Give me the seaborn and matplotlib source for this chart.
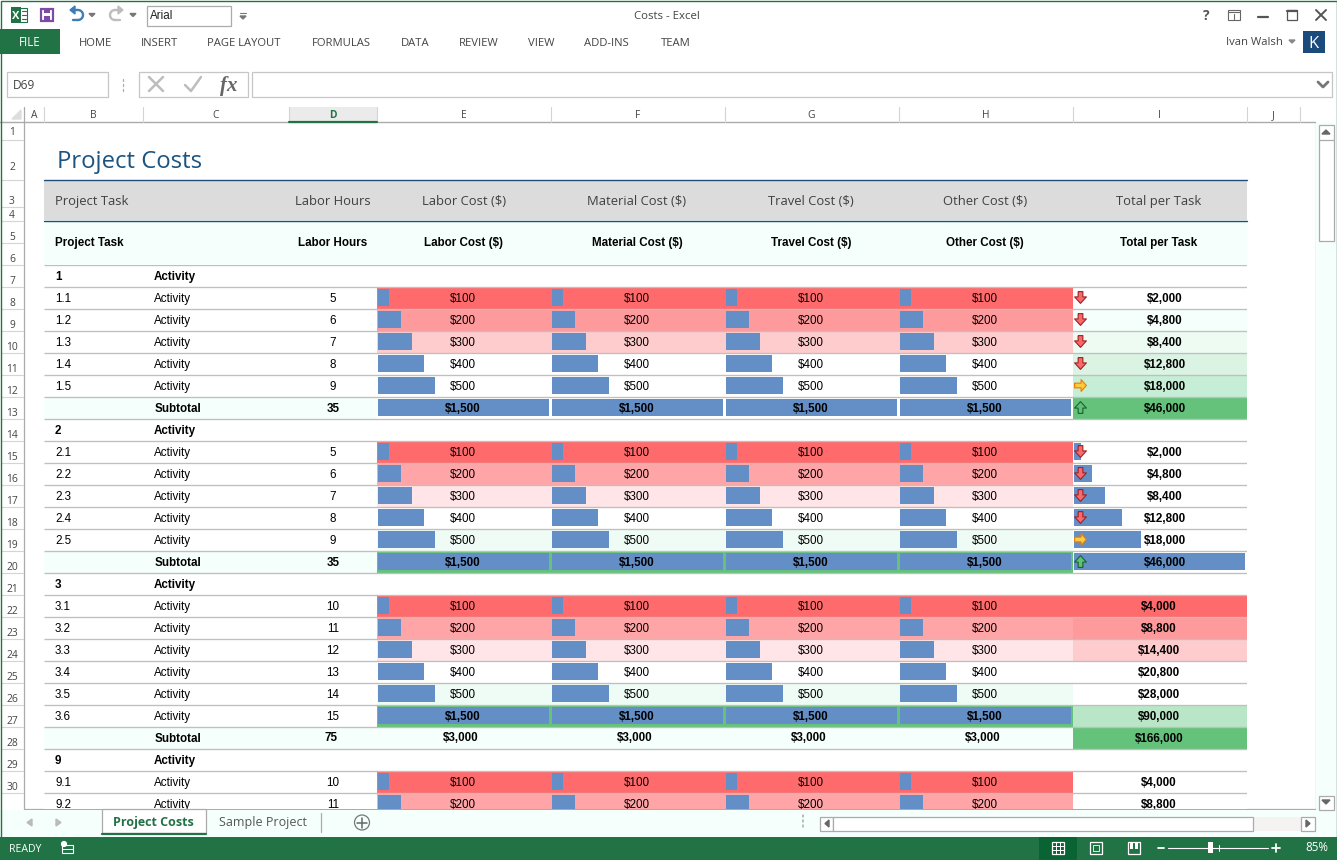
# analysis/hoja_costos.py
import matplotlib.pyplot as plt
import seaborn as sns
import pandas as pd
import numpy as np
from matplotlib.colors import ListedColormap
from matplotlib.patches import Rectangle, Circle, Polygon
from matplotlib.path import Path

ANCHO = 1337
ALTO = 860
OUTPUT_PATH = "out.png"

VERDE = "#217346"
AZUL_BARRA = "#638EC6"
AZUL_TITULO = "#1B5480"
AZUL_LINEA = "#1F4E79"
MENTA = "#F5FFFB"
GRIS_LINEA = "#BFBFBF"
GRIS_TEXTO = "#444444"

FUENTE_UI = "Open Sans"
FUENTE_HOJA = "Liberation Sans"

# Textos de la interfaz
PESTANAS_RIBBON = ["HOME", "INSERT", "PAGE LAYOUT", "FORMULAS", "DATA", "REVIEW", "VIEW", "ADD-INS", "TEAM"]
PESTANAS_X = [95, 159, 244, 341, 415, 479, 541, 606, 676]
COLUMNAS_LETRAS = ["A", "B", "C", "D", "E", "F", "G", "H", "I", "J"]
COLUMNAS_BORDES = [24, 44, 143, 289, 376.5, 550.5, 724.5, 898.5, 1072.5, 1247, 1300]
FILAS_ALTURAS = [16.5, 40, 27, 14, 22, 22.5]  # filas 1 a 6

ENCABEZADOS = ["Project Task", "Labor Hours", "Labor Cost ($)", "Material Cost ($)",
               "Travel Cost ($)", "Other Cost ($)", "Total per Task"]
ENCABEZADOS_X = [55, 333, 464, 637, 811, 985, 1159]

# Datos de las filas 7 a 31
TAREAS = ["1", "1.1", "1.2", "1.3", "1.4", "1.5", "",
          "2", "2.1", "2.2", "2.3", "2.4", "2.5", "",
          "3", "3.1", "3.2", "3.3", "3.4", "3.5", "3.6", "",
          "9", "9.1", "9.2"]
ETIQUETAS = ["Activity"] * 6 + ["Subtotal"] + ["Activity"] * 6 + ["Subtotal"] \
    + ["Activity"] * 7 + ["Subtotal"] + ["Activity"] * 3
HORAS = [None, 5, 6, 7, 8, 9, 35,
         None, 5, 6, 7, 8, 9, 35,
         None, 10, 11, 12, 13, 14, 15, 75,
         None, 10, 11]
COSTOS = [None, 100, 200, 300, 400, 500, 1500,
          None, 100, 200, 300, 400, 500, 1500,
          None, 100, 200, 300, 400, 500, 1500, 3000,
          None, 100, 200]
TOTALES = [None, 2000, 4800, 8400, 12800, 18000, 46000,
           None, 2000, 4800, 8400, 12800, 18000, 46000,
           None, 4000, 8800, 14400, 20800, 28000, 90000, 166000,
           None, 4000, 8800]
# Barras de datos: la fila 28 no tiene barra y la columna total solo en el grupo 2
BARRAS_COSTO = COSTOS[:21] + [None] + COSTOS[22:]
BARRAS_TOTAL = [None] * 8 + TOTALES[8:14] + [None] * 11
# Flechas de la columna total (-1 baja, 0 igual, 1 sube)
FLECHAS = [None, -1, -1, -1, -1, 0, 1,
           None, -1, -1, -1, -1, 0, 1,
           None, None, None, None, None, None, None, None,
           None, None, None]

# Colores de relleno, los índices de abajo apuntan a esta lista
PALETA = ["#FFFFFF", "#FF6B6D", "#FF9A9C", "#FFA5A7", "#FFCCCE", "#FFE5E7", "#EFFBF5",
          "#64C27B", MENTA, "#EDFBF3", "#DAF3E3", "#C6EDD5", "#B8E6C6"]
RELLENO_TAREA = [0, 0, 0, 0, 0, 0, 8, 0, 0, 0, 0, 0, 0, 8, 0, 0, 0, 0, 0, 0, 0, 8, 0, 0, 0]
RELLENO_COSTO = [0, 1, 2, 4, 0, 0, 0,
                 0, 1, 3, 5, 0, 6, 7,
                 0, 1, 3, 5, 0, 6, 7, 8,
                 0, 1, 3]
RELLENO_TOTAL = [0, 0, 8, 9, 10, 11, 7,
                 0, 0, 0, 0, 0, 0, 0,
                 0, 1, 2, 4, 0, 0, 12, 7,
                 0, 0, 0]

FILA_INICIO = 264.5
FILA_ALTO = 22
HOJA_FIN = 809
FILAS_VISIBLES = (HOJA_FIN - FILA_INICIO) / FILA_ALTO


def crear_eje(x0, y0, x1, y1, zorder):
    """Crea un eje colocado con coordenadas en pixeles de la imagen."""
    ax = plt.gcf().add_axes([x0 / ANCHO, 1 - y1 / ALTO, (x1 - x0) / ANCHO, (y1 - y0) / ALTO])
    ax.set_zorder(zorder)
    ax.patch.set_alpha(0)
    return ax


def rect(ax, x0, y0, x1, y1, fc="none", ec="none", lw=1.0, zorder=1):
    ax.add_patch(Rectangle((x0, y0), x1 - x0, y1 - y0, facecolor=fc, edgecolor=ec, linewidth=lw, zorder=zorder))


def texto(ax, x, y, s, size=8.2, color=GRIS_TEXTO, ha="center", family=FUENTE_UI, escala=1.0, **kwargs):
    """Escribe sobre la línea base, así los dígitos y las letras quedan a la misma altura."""
    base = y + 0.358 * size * 100 / 72 * escala
    ax.text(x, base, s, fontsize=size, color=color, ha=ha, va="baseline", family=family, **kwargs)


def flecha_curva(ax, x_cabeza, x_fin, color):
    """Dibuja la flecha de deshacer o rehacer."""
    signo = 1 if x_fin > x_cabeza else -1
    angulos = np.radians(np.linspace(-90, 90, 20))
    centro = x_fin - signo * 5
    ax.plot(centro + signo * 5 * np.cos(angulos), 15 + 5 * np.sin(angulos), color=color, lw=1.7)
    ax.plot([centro, x_cabeza + signo * 3], [10, 10], color=color, lw=1.7)
    ax.plot([centro, x_cabeza + signo * 3], [20, 20], color=color, lw=1.7)
    ax.add_patch(Polygon([(x_cabeza, 10), (x_cabeza + signo * 5, 6), (x_cabeza + signo * 5, 14)], color=color))


def dibujar_barra_titulo(ax):
    """Dibuja la barra superior, las pestañas y la barra de fórmulas."""
    # Iconos de acceso rápido
    rect(ax, 17, 8, 27, 22, fc="white", ec=VERDE, lw=0.8)
    rect(ax, 11, 7, 21, 23, fc=VERDE)
    texto(ax, 16, 15, "X", size=8, color="white", fontweight="bold")
    for y in [11, 15, 19]:
        ax.plot([22, 26], [y, y], color=VERDE, lw=0.8)
    rect(ax, 41, 9, 53, 21, fc="white", ec="#7B4BA8", lw=1.6)
    rect(ax, 44, 9, 50, 13, fc="#7B4BA8")
    rect(ax, 44, 16, 50, 21, fc="#7B4BA8")
    flecha_curva(ax, 70, 83, "#3E7DB8")
    flecha_curva(ax, 123, 110, "#BDBDBD")
    for x in [92, 133, 221, 97]:
        y = 15 if x != 97 else 84
        ax.add_patch(Polygon([(x - 3, y - 1.5), (x + 3, y - 1.5), (x, y + 1.5)], color="#777777"))
    rect(ax, 146.5, 5.5, 230.5, 25.5, fc="white", ec="#ABABAB", lw=0.9)
    texto(ax, 150, 15, "Arial", size=8.4, color="#222222", ha="left", family=FUENTE_HOJA)
    ax.plot([240, 246], [13, 13], color="#777777", lw=0.8)
    ax.add_patch(Polygon([(240, 16), (246, 16), (243, 19)], color="#777777"))
    texto(ax, 667, 15, "Costs - Excel", size=8.2)

    # Controles de la ventana
    texto(ax, 1206, 15, "?", size=10, color="#555555", fontweight="bold")
    rect(ax, 1228, 10, 1240, 20, ec="#666666", lw=0.8)
    ax.plot([1228, 1240], [12, 12], color="#666666", lw=0.8)
    ax.plot([1234, 1234], [14, 19], color="#666666", lw=0.8)
    ax.plot([1258, 1268], [17, 17], color="#555555", lw=1.6)
    rect(ax, 1287, 10, 1297, 20, ec="#555555", lw=0.9)
    ax.plot([1287, 1297], [11, 11], color="#555555", lw=1.6)
    ax.plot([1316, 1326], [10, 20], color="#555555", lw=1.4)
    ax.plot([1316, 1326], [20, 10], color="#555555", lw=1.4)

    # Ribbon
    rect(ax, 0, 29, 60, 54, fc=VERDE)
    texto(ax, 30, 42, "FILE", size=8.3, color="white")
    for nombre, x in zip(PESTANAS_RIBBON, PESTANAS_X):
        texto(ax, x, 42, nombre, size=8.1)
    texto(ax, 1283, 41, "Ivan Walsh", size=8.1, ha="right")
    ax.add_patch(Polygon([(1289, 40), (1295, 40), (1292, 43)], color="#888888"))
    rect(ax, 1303, 31, 1325, 53, fc="#1A4B7C")
    texto(ax, 1314, 42, "K", size=12, color="white")

    # Barra de fórmulas
    rect(ax, 6.5, 71.5, 107.5, 96.5, fc="white", ec="#C6C6C6", lw=0.9)
    texto(ax, 13, 85, "D69", size=8.6, ha="left")
    for y in [79, 84, 89]:
        ax.plot([122.5, 122.5], [y, y + 1.5], color="#AAAAAA", lw=0.9)
    rect(ax, 138.5, 71.5, 247.5, 96.5, fc="white", ec="#C6C6C6", lw=0.9)
    ax.plot([149, 163], [77, 91], color="#BDBDBD", lw=1.8)
    ax.plot([149, 163], [91, 77], color="#BDBDBD", lw=1.8)
    ax.plot([185, 191, 201], [85, 91, 77], color="#BDBDBD", lw=1.8)
    texto(ax, 229, 84, "fx", size=15, color="#666666", family="Liberation Serif",
          fontstyle="italic", fontweight="bold")
    rect(ax, 251.5, 71.5, 1331.5, 96.5, fc="white", ec="#C6C6C6", lw=0.9)
    ax.plot([1318, 1323, 1328], [82, 87, 82], color="#777777", lw=2)


def dibujar_encabezados(ax):
    """Dibuja los encabezados de columnas y filas de la hoja."""
    ax.plot([0, 1315], [122, 122], color="#ABABAB", lw=1)
    ax.plot([23.5, 23.5], [107, 809], color="#ABABAB", lw=0.9)
    rect(ax, 289, 107, 376.5, 121, fc="#EBEBEB")
    ax.plot([289, 376.5], [122, 122], color=VERDE, lw=1.6, zorder=3)
    ax.add_patch(Polygon([(21, 119), (21, 110), (12, 119)], color="#DDDDDD"))
    for i, letra in enumerate(COLUMNAS_LETRAS):
        centro = (COLUMNAS_BORDES[i] + COLUMNAS_BORDES[i + 1]) / 2
        activa = letra == "D"
        texto(ax, centro, 114, letra, size=7.4, color=VERDE if activa else GRIS_TEXTO,
              fontweight="bold" if activa else "normal")
        ax.plot([COLUMNAS_BORDES[i + 1]] * 2, [107, 122], color="#D4D4D4", lw=0.8)

    # Numeros de fila, van pegados al borde inferior de cada celda
    bordes = np.concatenate([123 + np.cumsum(FILAS_ALTURAS),
                             FILA_INICIO + FILA_ALTO * np.arange(1, 26)])
    for n, borde in enumerate(bordes, start=1):
        if borde < HOJA_FIN:
            ax.plot([1, 23], [borde, borde], color="#D4D4D4", lw=0.8)
        y = borde - 6.5
        if n == 1:
            y = borde - 8
        if n == 2:
            y = borde - 13.5  # la fila del título es más alta
        if y < HOJA_FIN - 2:
            texto(ax, 12, y, str(n), size=7.4, clip_on=True)
    ax.plot([1315.5, 1315.5], [122, 809], color="#ABABAB", lw=0.9)
    ax.plot([24, 1315.5], [809, 809], color="#ABABAB", lw=0.9)


def dibujar_titulo_hoja(ax):
    """Escribe el título y las dos bandas de encabezado de la tabla."""
    texto(ax, 57, 159, "Project Costs", size=17.2, color=AZUL_TITULO, ha="left")
    rect(ax, 44, 179.5, 1247, 220, fc="#DCDCDC")
    rect(ax, 44, 220, 1247, 264.5, fc=MENTA)
    ax.plot([44, 1247], [179.5, 179.5], color=AZUL_LINEA, lw=1)
    ax.plot([44, 1247], [220.5, 220.5], color=AZUL_LINEA, lw=1)
    for i, (nombre, x) in enumerate(zip(ENCABEZADOS, ENCABEZADOS_X)):
        ha = "left" if i == 0 else "center"
        texto(ax, x, 200, nombre, size=9.4, color="#404040", ha=ha)
        texto(ax, x, 242, nombre, size=8.4, color="black", ha=ha, family=FUENTE_HOJA, fontweight="bold")


def dibujar_rellenos(x0, x1, relleno):
    """Pinta una columna de celdas como un mapa de calor de una sola columna."""
    ax = crear_eje(x0, FILA_INICIO, x1, HOJA_FIN, 1)
    matriz = np.array(relleno, dtype=float).reshape(-1, 1)
    sns.heatmap(matriz, cmap=ListedColormap(PALETA), vmin=-0.5, vmax=len(PALETA) - 0.5,
                cbar=False, xticklabels=False, yticklabels=False, ax=ax)
    ax.set_ylim(FILAS_VISIBLES, 0)
    ax.axis("off")


def dibujar_barras(x0, x1, valores, pixeles_por_unidad):
    """Dibuja las barras de datos de una columna, que nacen pasado el borde de la celda."""
    ax = crear_eje(x0, FILA_INICIO, x1, HOJA_FIN, 2)
    datos = pd.DataFrame({"fila": np.arange(len(valores)) + 0.5, "valor": valores}).dropna()
    sns.barplot(data=datos, x="valor", y="fila", orient="y", native_scale=True, color=AZUL_BARRA,
                saturation=1, width=0.818, linewidth=0, errorbar=None, ax=ax)
    ax.set_xlim(-1.5 / pixeles_por_unidad, (x1 - x0 - 1.5) / pixeles_por_unidad)
    ax.set_ylim(FILAS_VISIBLES, 0)
    ax.axis("off")


def dibujar_flechas(ax):
    """Coloca las flechas de icono en la columna de totales."""
    abajo = Path([(-0.4, 1), (0.4, 1), (0.4, 0.1), (1, 0.1), (0, -1), (-1, 0.1), (-0.4, 0.1), (-0.4, 1)])
    derecha = Path([(-1, 0.4), (0.1, 0.4), (0.1, 1), (1, 0), (0.1, -1), (0.1, -0.4), (-1, -0.4), (-1, 0.4)])
    arriba = Path([(-0.4, -1), (0.4, -1), (0.4, -0.1), (1, -0.1), (0, 1), (-1, -0.1), (-0.4, -0.1), (-0.4, -1)])
    estilos = {-1: (abajo, "#F8696B", "#A31F22"),
               0: (derecha, "#FFCB3D", "#EE7B00"),
               1: (arriba, "#63BE7B", "#17632B")}
    x_icono = COLUMNAS_BORDES[8] + 7
    filas = np.arange(len(FLECHAS)) + 0.47
    for clave, (marca, relleno, borde) in estilos.items():
        elegidas = [f for f, flecha in zip(filas, FLECHAS) if flecha == clave]
        sns.scatterplot(x=[x_icono] * len(elegidas), y=elegidas, marker=marca, s=72, color=relleno,
                        edgecolor=borde, linewidth=0.8, legend=False, ax=ax)


def dibujar_tabla():
    """Escribe las líneas y los textos de la tabla por encima de rellenos y barras."""
    ax = crear_eje(44, FILA_INICIO, 1247, HOJA_FIN, 3)
    ax.set_xlim(44, 1247)
    ax.hlines(np.arange(0, 26), 44, 1247, color=GRIS_LINEA, linewidth=0.95)
    dibujar_flechas(ax)
    ax.set_xlim(44, 1247)
    ax.set_ylim(FILAS_VISIBLES, 0)
    ax.axis("off")

    for i, (tarea, etiqueta) in enumerate(zip(TAREAS, ETIQUETAS)):
        y = i + 0.5
        subtotal = etiqueta == "Subtotal"
        grupo = "." not in tarea and tarea != ""
        peso = "bold" if (subtotal or grupo) else "normal"
        ajuste = -2 if i == 21 else 0  # la fila 28 va un poco corrida
        subida = -0.05 if i == 21 else 0
        comun = dict(size=8.4, color="black", family=FUENTE_HOJA, clip_on=True, escala=1 / FILA_ALTO)
        texto(ax, 55, y, tarea, ha="left", fontweight=peso, **comun)
        texto(ax, 155 if subtotal else 154, y, etiqueta, ha="left", fontweight=peso, **comun)
        if HORAS[i] is None:
            continue
        texto(ax, 333 + ajuste, y + subida, str(HORAS[i]), fontweight=peso, **comun)
        peso_costo = "bold" if (subtotal or COSTOS[i] >= 1500) else "normal"
        for centro in [463, 637, 811, 985]:
            texto(ax, centro + ajuste, y + subida, f"${COSTOS[i]:,}", fontweight=peso_costo, **comun)
        centro_total = 1165 if i < 14 else 1159  # los grupos 1 y 2 van corridos por la flecha
        texto(ax, centro_total, y, f"${TOTALES[i]:,}", fontweight="bold", **comun)


def dibujar_pie(ax):
    """Dibuja las pestañas de hojas, las barras de desplazamiento y la barra de estado."""
    rect(ax, 1316, 122, 1336, 837, fc=MENTA, zorder=0)
    rect(ax, 0, 810, 1336, 837, fc=MENTA, zorder=0)

    # Barra vertical
    rect(ax, 1318.5, 124.5, 1333.5, 240.5, fc="white", ec="#ABABAB", lw=0.9)
    ax.plot([1318.5, 1333.5], [139.5, 139.5], color="#ABABAB", lw=0.9)
    ax.add_patch(Polygon([(1322, 134), (1330, 134), (1326, 130)], color="#666666"))
    rect(ax, 1318.5, 795.5, 1333.5, 809.5, fc="white", ec="#ABABAB", lw=0.9)
    ax.add_patch(Polygon([(1322, 800), (1330, 800), (1326, 804)], color="#666666"))

    # Pestañas de hojas
    ax.add_patch(Polygon([(32, 819), (32, 826), (27, 822.5)], color="#BBBBBB"))
    ax.add_patch(Polygon([(56, 819), (56, 826), (61, 822.5)], color="#BBBBBB"))
    rect(ax, 101.5, 809, 205.5, 833, fc="white", ec="#ABABAB", lw=0.9)
    ax.plot([101.5, 205.5], [833.5, 833.5], color=VERDE, lw=1.6)
    texto(ax, 153, 822, "Project Costs", size=9, color=VERDE, fontweight="bold")
    texto(ax, 263, 822, "Sample Project", size=9, color="#555555")
    ax.plot([320.5, 320.5], [813, 832], color="#ABABAB", lw=0.9)
    ax.add_patch(Circle((362, 822.5), 7.5, facecolor="none", edgecolor="#777777", linewidth=0.9))
    ax.plot([357, 367], [822.5, 822.5], color="#666666", lw=1.1)
    ax.plot([362, 362], [817.5, 827.5], color="#666666", lw=1.1)

    # Barra horizontal
    for y in [815, 820, 825]:
        ax.plot([803, 803], [y, y + 2], color="#AAAAAA", lw=1.1)
    rect(ax, 819.5, 816.5, 1315, 830.5, fc="#F5F2F2", ec="none")
    rect(ax, 819.5, 816.5, 833, 830.5, fc="white", ec="#ABABAB", lw=0.9)
    rect(ax, 833, 816.5, 1252.5, 830.5, fc="white", ec="#ABABAB", lw=0.9)
    rect(ax, 1301, 816.5, 1314.5, 830.5, fc="white", ec="#ABABAB", lw=0.9)
    ax.add_patch(Polygon([(829, 820), (829, 827), (825, 823.5)], color="#666666"))
    ax.add_patch(Polygon([(1306, 820), (1306, 827), (1310, 823.5)], color="#666666"))

    # Barra de estado
    rect(ax, 0, 837, 1337, 860, fc=VERDE)
    texto(ax, 25, 848, "READY", size=7.6, color="white")
    rect(ax, 62, 845, 73, 853, fc="none", ec="white", lw=0.8)
    ax.add_patch(Circle((64, 844), 2.4, color="white"))
    ax.plot([62, 73], [849, 849], color="white", lw=0.7)
    rect(ax, 1039, 837, 1077, 860, fc="#0A6332")
    rect(ax, 1052, 842, 1064, 854, ec="white", lw=0.9)
    for d in [4, 8]:
        ax.plot([1052 + d] * 2, [842, 854], color="white", lw=0.7)
        ax.plot([1052, 1064], [842 + d] * 2, color="white", lw=0.7)
    rect(ax, 1090, 842, 1102, 854, ec="white", lw=0.9)
    rect(ax, 1093, 845, 1099, 851, ec="white", lw=0.6)
    rect(ax, 1128, 842, 1140, 854, ec="white", lw=0.9)
    rect(ax, 1130, 842, 1133, 849, fc="white")
    rect(ax, 1135, 842, 1138, 849, fc="white")
    ax.plot([1158, 1164], [848, 848], color="white", lw=1.3)
    ax.plot([1168, 1268], [848, 848], color="white", lw=0.8)
    rect(ax, 1208, 842, 1213, 853, fc="white")
    ax.plot([1218.5, 1218.5], [845, 851], color="white", lw=0.7)
    ax.plot([1272, 1280], [848, 848], color="white", lw=1.3)
    ax.plot([1276, 1276], [844, 852], color="white", lw=1.3)
    texto(ax, 1317, 847, "85%", size=8.4, color="white")


def crear_hoja():
    """Arma la captura completa de la hoja de costos."""
    sns.set_style("white")
    fig = plt.figure(figsize=(ANCHO / 100, ALTO / 100), dpi=100)
    fig.patch.set_facecolor("white")

    # Fondo con la interfaz, en pixeles
    fondo = crear_eje(0, 0, ANCHO, ALTO, 0)
    fondo.set_xlim(0, ANCHO)
    fondo.set_ylim(ALTO, 0)
    fondo.axis("off")
    dibujar_barra_titulo(fondo)
    dibujar_encabezados(fondo)
    dibujar_titulo_hoja(fondo)

    # Rellenos de celdas y barras de datos
    dibujar_rellenos(COLUMNAS_BORDES[1], COLUMNAS_BORDES[4], RELLENO_TAREA)
    for c in range(4, 8):
        dibujar_rellenos(COLUMNAS_BORDES[c], COLUMNAS_BORDES[c + 1], RELLENO_COSTO)
        dibujar_barras(COLUMNAS_BORDES[c], COLUMNAS_BORDES[c + 1], BARRAS_COSTO, 171 / 1500)
    dibujar_rellenos(COLUMNAS_BORDES[8], COLUMNAS_BORDES[9], RELLENO_TOTAL)
    dibujar_barras(COLUMNAS_BORDES[8], COLUMNAS_BORDES[9], BARRAS_TOTAL, 171 / 46000)

    dibujar_tabla()

    # Pie y borde de la ventana por encima de todo
    pie = crear_eje(0, 0, ANCHO, ALTO, 4)
    pie.set_xlim(0, ANCHO)
    pie.set_ylim(ALTO, 0)
    pie.axis("off")
    dibujar_pie(pie)
    rect(pie, 0.5, 0.5, 1336.5, 859.5, ec=VERDE, lw=1)
    return fig


def crear_visualizaciones():
    """Genera la imagen y la guarda."""
    fig = crear_hoja()
    fig.savefig(OUTPUT_PATH, dpi=100)
    print(f"  ✅ {OUTPUT_PATH}")
    plt.close(fig)


if __name__ == "__main__":
    crear_visualizaciones()
